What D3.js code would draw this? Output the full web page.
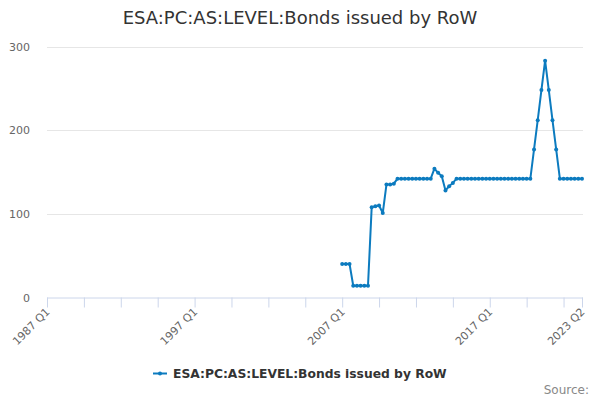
<!DOCTYPE html>
<html>
<head>
<meta charset="utf-8">
<script src="https://cdn.jsdelivr.net/npm/d3@7"></script>
<style>
  html, body { margin: 0; padding: 0; background: #fff; }
  svg { display: block; font-family: "DejaVu Sans", Verdana, sans-serif; }
</style>
</head>
<body>
<svg id="chart" width="600" height="400"></svg>
<script>
// ---- data ----
const years = d3.range(1987, 2024);
const categories = [];
years.forEach(yr => [1, 2, 3, 4].forEach(q => { if (yr < 2023 || q <= 2) categories.push(yr + " Q" + q); }));
const firstIndex = 80; // 2007 Q1
const seriesValues = [
  40, 40, 40,
  14, 14, 14, 14, 14,
  108, 109, 110, 101,
  135, 135, 136,
  142, 142, 142, 142, 142, 142, 142, 142, 142, 142,
  154, 149, 145, 128, 133, 137,
  142, 142, 142, 142, 142, 142, 142, 142, 142, 142,
  142, 142, 142, 142, 142, 142, 142, 142, 142, 142, 142,
  177, 212, 248, 283, 248, 212, 177,
  142, 142, 142, 142, 142, 142, 142
];
const yTicks = [0, 100, 200, 300];
const xLabelCats = ["1987 Q1", "1997 Q1", "2007 Q1", "2017 Q1", "2023 Q2"];
const seriesName = "ESA:PC:AS:LEVEL:Bonds issued by RoW";
const titleText = "ESA:PC:AS:LEVEL:Bonds issued by RoW";

const points = seriesValues.map((v, i) => ({ cat: categories[firstIndex + i], value: v }));

// ---- layout ----
const svg = d3.select("#chart");
const plotLeft = 47, plotRight = 582, plotTop = 46.5, plotBottom = 297.5;
const color = "#0c7bbf";

const x = d3.scalePoint().domain(categories).range([plotLeft, plotRight]);
const y = d3.scaleLinear().domain([0, 300]).range([plotBottom, plotTop]);

// title
svg.append("text").attr("x", 300).attr("y", 24).attr("text-anchor", "middle")
  .attr("font-size", 18).attr("fill", "#333").text(titleText);

// gridlines
svg.append("g").selectAll("line").data(yTicks.filter(t => t > 0)).join("line")
  .attr("x1", plotLeft).attr("x2", plotRight + 1)
  .attr("y1", d => Math.round(y(d)) + 0.5).attr("y2", d => Math.round(y(d)) + 0.5)
  .attr("stroke", "#e6e6e6").attr("stroke-width", 1);

// y labels
svg.append("g").selectAll("text").data(yTicks).join("text")
  .attr("x", 30).attr("y", d => y(d) + 4).attr("text-anchor", "end")
  .attr("font-size", 11).attr("fill", "#666").text(d => d);

// x axis
const tickCats = categories.filter((c, i) => i % 10 === 0 || i === categories.length - 1);
const xAxis = d3.axisBottom(x).tickValues(tickCats).tickSize(10).tickFormat(d => xLabelCats.includes(d) ? d : "");
const gx = svg.append("g").attr("transform", `translate(0,${plotBottom})`).call(xAxis);
gx.select(".domain").attr("stroke", "#ccd6eb").attr("d", `M${plotLeft},0.5H${plotRight + 1}`);
gx.selectAll(".tick line").attr("stroke", "#ccd6eb");
gx.selectAll(".tick text")
  .attr("font-size", 11).attr("fill", "#666")
  .attr("font-family", "DejaVu Sans, Verdana, sans-serif")
  .attr("text-anchor", "end")
  .attr("dy", null).attr("y", 0)
  .attr("transform", "translate(3,15) rotate(-45)");

// line
const line = d3.line().x(d => x(d.cat)).y(d => y(d.value));
svg.append("path").datum(points).attr("d", line)
  .attr("fill", "none").attr("stroke", color).attr("stroke-width", 2)
  .attr("stroke-linejoin", "round");
svg.append("g").selectAll("circle").data(points).join("circle")
  .attr("cx", d => x(d.cat)).attr("cy", d => y(d.value)).attr("r", 2)
  .attr("fill", color);

// legend
const lg = svg.append("g").attr("transform", "translate(153,373)");
lg.append("line").attr("x1", 0).attr("x2", 14).attr("y1", 0.5).attr("y2", 0.5)
  .attr("stroke", color).attr("stroke-width", 2);
lg.append("circle").attr("cx", 7).attr("cy", 0.5).attr("r", 2).attr("fill", color);
lg.append("text").attr("x", 20).attr("y", 5).attr("font-size", 12.3).attr("font-weight", "bold")
  .attr("fill", "#333").text(seriesName);

// credits
svg.append("text").attr("x", 589).attr("y", 394).attr("text-anchor", "end")
  .attr("font-size", 12).attr("fill", "#888").text("Source:");
</script>
</body>
</html>
